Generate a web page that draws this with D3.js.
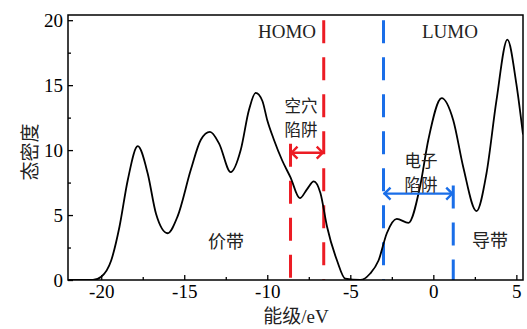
<!DOCTYPE html>
<html>
<head>
<meta charset="utf-8">
<script src="https://cdn.jsdelivr.net/npm/d3@7"></script>
<style>
  html, body { margin: 0; padding: 0; background: #fff; }
  svg { display: block; }
  .serif { font-family: "Liberation Serif", "Times New Roman", "Noto Sans CJK SC", serif; }
  .cjk { font-family: "Noto Sans CJK SC", sans-serif; }
</style>
</head>
<body>
<svg id="chart" width="527" height="329"></svg>
<script>
// ---- data ----
const energy = [-22, -21, -20.5, -20, -19.4, -18.9, -18.4, -17.8, -17.2, -16.7, -16.0, -15.4, -14.6, -14.0, -13.45, -12.9, -12.2, -11.6, -11.1, -10.7, -10.3, -10.0, -9.6, -9.1, -8.6, -8.04, -7.6, -7.2, -6.8, -6.4, -5.8, -5.3, -4.4, -3.8, -3.3, -2.8, -2.2, -1.5, -0.8, -0.3, 0.5, 1.2, 1.8, 2.6, 3.2, 3.8, 4.46, 5.0, 5.4];
const dos    = [0, 0, 0, 0.25, 1.5, 4.1, 7.7, 10.3, 8.2, 5.1, 3.6, 4.9, 8.5, 10.8, 11.4, 10.5, 8.3, 10.0, 13.1, 14.4, 13.8, 12.3, 10.8, 9.2, 7.9, 6.3, 7.0, 7.6, 6.7, 4.1, 1.5, 0.1, 0, 0.5, 1.5, 3.6, 4.7, 4.4, 7.2, 10.8, 14.0, 12.3, 8.7, 5.3, 8.2, 13.8, 18.5, 15.1, 11.2];
const xTicks = [-20, -15, -10, -5, 0, 5];
const xMinorTicks = [-17.5, -12.5, -7.5, -2.5, 2.5];
const yTicks = [0, 5, 10, 15, 20];
const yMinorTicks = [2.5, 7.5, 12.5, 17.5];
const homoLines = [-8.6, -6.6];   // red dashed
const lumoLines = [-3.0, 1.2];    // blue dashed
const holeTrapLevel = 9.8;
const electronTrapLevel = 6.65;
const xLabel = "能级/eV";
const yLabel = "态密度";

// ---- layout ----
const W = 527, H = 329;
const m = { left: 68, right: 4, top: 15, bottom: 49 };
const x = d3.scaleLinear().domain([-22, 5.4]).range([m.left, W - m.right]);
const y = d3.scaleLinear().domain([0, 20.4]).range([H - m.bottom, m.top]);
const RED = "#ec1c24", BLUE = "#1a6ee8";

const svg = d3.select("#chart");

svg.append("clipPath").attr("id", "clip").append("rect")
  .attr("x", m.left).attr("y", m.top)
  .attr("width", W - m.left - m.right).attr("height", H - m.top - m.bottom);

// axes
svg.append("g").attr("transform", `translate(0,${y(0)})`)
  .call(d3.axisBottom(x).tickValues(xTicks).tickSize(-5).tickPadding(5).tickFormat(d => String(d)));
svg.append("g").attr("transform", `translate(0,${y(0)})`)
  .call(d3.axisBottom(x).tickValues(xMinorTicks).tickSize(-3).tickFormat(""));
svg.append("g").attr("transform", `translate(${m.left},0)`)
  .call(d3.axisLeft(y).tickValues(yTicks).tickSize(-5).tickPadding(5).tickFormat(d => String(d)));
svg.append("g").attr("transform", `translate(${m.left},0)`)
  .call(d3.axisLeft(y).tickValues(yMinorTicks).tickSize(-3).tickFormat(""));
svg.selectAll(".domain").remove();
svg.selectAll(".tick line").attr("stroke", "#000").attr("stroke-width", 1.3);
svg.selectAll(".tick text").attr("class", "serif").attr("font-size", 19).attr("fill", "#000");

// vertical dashed lines
const dashed = svg.append("g").attr("clip-path", "url(#clip)");
function vline(e, top, color) {
  dashed.append("line")
    .attr("x1", x(e)).attr("x2", x(e))
    .attr("y1", top).attr("y2", y(0))
    .attr("stroke", color).attr("stroke-width", 3)
    .attr("stroke-dasharray", "23,14");
}
vline(homoLines[0], y(holeTrapLevel) - 9, RED);
vline(homoLines[1], y(20), RED);
vline(lumoLines[0], y(20), BLUE);
vline(lumoLines[1], y(electronTrapLevel) - 8, BLUE);

// DOS curve
const line = d3.line().x((d, i) => x(energy[i])).y(d => y(d)).curve(d3.curveMonotoneX);
svg.append("path").datum(dos)
  .attr("clip-path", "url(#clip)")
  .attr("d", line)
  .attr("fill", "none").attr("stroke", "#000").attr("stroke-width", 1.8);

// double arrows
function dblArrow(e1, e2, level, color) {
  const x1 = x(e1), x2 = x(e2), yy = y(level), a = 7, h = 6;
  const g = svg.append("g").attr("fill", "none").attr("stroke", color)
    .attr("stroke-width", 2.4).attr("stroke-linejoin", "miter");
  g.append("line").attr("x1", x1).attr("x2", x2).attr("y1", yy).attr("y2", yy);
  g.append("path").attr("d", `M${x1 + a},${yy - h}L${x1 + 1},${yy}L${x1 + a},${yy + h}`);
  g.append("path").attr("d", `M${x2 - a},${yy - h}L${x2 - 1},${yy}L${x2 - a},${yy + h}`);
}
dblArrow(homoLines[0], homoLines[1], holeTrapLevel, RED);
dblArrow(lumoLines[0], lumoLines[1], electronTrapLevel, BLUE);

// frame
svg.append("rect")
  .attr("x", m.left).attr("y", m.top)
  .attr("width", W - m.left - m.right).attr("height", H - m.top - m.bottom)
  .attr("fill", "none").attr("stroke", "#000").attr("stroke-width", 1.5);

// text labels
function txt(lines, px, py, cls, size, anchor = "middle", lh = 24) {
  const t = svg.append("text").attr("class", cls)
    .attr("x", px).attr("y", py)
    .attr("font-size", size).attr("text-anchor", anchor)
    .attr("dominant-baseline", "central").attr("fill", "#222");
  lines.forEach((s, i) => {
    t.append("tspan").attr("x", px).attr("y", py + i * lh).text(s);
  });
}
txt(["HOMO"], 316, 31, "serif", 19, "end");
txt(["LUMO"], 450, 31, "serif", 19);
txt(["空穴", "陷阱"], 301, 105, "cjk", 16.5);
txt(["电子", "陷阱"], 421, 160, "cjk", 16.5);
txt(["价带"], 226, 240, "cjk", 18);
txt(["导带"], 490, 239, "cjk", 18);

// axis titles
svg.append("text").attr("class", "serif")
  .attr("x", 296).attr("y", 316).attr("font-size", 19)
  .attr("text-anchor", "middle").attr("dominant-baseline", "central").attr("fill", "#222")
  .text(xLabel);
svg.append("text").attr("class", "cjk")
  .attr("transform", `translate(28,152) rotate(-90)`)
  .attr("font-size", 19)
  .attr("text-anchor", "middle").attr("dominant-baseline", "central").attr("fill", "#222")
  .text(yLabel);
</script>
</body>
</html>
